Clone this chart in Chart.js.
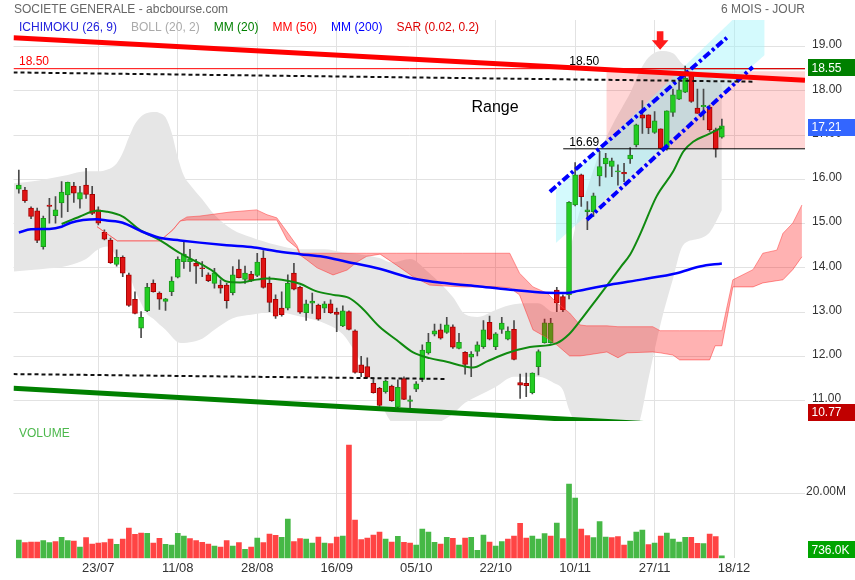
<!DOCTYPE html>
<html>
<head>
<meta charset="utf-8">
<script src="https://cdn.jsdelivr.net/npm/chart.js@4.4.1/dist/chart.umd.min.js"></script>
<style>
  html, body { margin: 0; padding: 0; background: #fff; }
  #wrap { width: 855px; height: 580px; }
  canvas { display: block; }
</style>
</head>
<body>
<div id="wrap">
  <canvas id="priceChart" width="855" height="421"></canvas>
  <canvas id="volChart" width="855" height="159"></canvas>
</div>
<script>
// Axe des dates : un indice par séance (0 = première bougie)
const dateTicks  = [13, 26, 39, 52, 65, 78, 91, 104, 117];
const dateLabels = ['23/07', '11/08', '28/08', '16/09', '05/10', '22/10', '10/11', '27/11', '18/12'];
const priceTicks = [11, 12, 13, 14, 15, 16, 17, 18, 19];
const volTicks   = [20];

// Bougies
const opens = [15.78,15.76,15.35,15.29,14.48,15.42,15.18,15.47,15.65,15.85,15.55,15.87,15.66,15.31,14.80,14.63,14.08,14.24,13.84,13.29,
  12.64,13.03,13.65,13.43,13.24,13.46,13.79,14.14,14.14,14.10,14.00,13.84,13.65,13.61,13.61,13.44,13.97,13.74,13.86,13.83,
  14.22,13.65,13.29,13.09,13.09,13.88,13.56,12.99,13.20,13.16,13.09,13.19,13.00,12.69,13.01,12.58,11.81,11.77,11.39,11.28,
  11.20,11.33,10.85,11.50,10.98,11.26,11.48,12.08,12.50,12.60,12.54,12.67,12.18,12.09,11.98,12.11,12.22,12.77,12.22,12.61,
  12.39,12.61,11.41,11.39,11.18,11.77,12.31,12.31,13.50,13.35,13.39,15.42,16.10,15.27,15.27,16.08,16.35,16.29,16.17,16.16,
  16.46,16.78,17.46,17.46,17.06,17.14,16.70,17.51,17.81,17.97,18.36,17.61,17.64,17.63,17.12,16.95];
const highs = [16.21,15.82,15.38,15.35,15.17,15.57,15.61,15.95,15.94,15.93,15.84,16.25,15.84,15.38,14.86,14.67,14.41,14.27,13.88,13.46,
  13.01,13.65,13.73,13.46,13.31,13.80,14.25,14.59,14.42,14.19,14.14,13.89,13.99,13.73,13.65,14.03,14.18,14.04,13.92,14.33,
  14.39,13.80,13.39,13.46,13.84,14.10,13.59,13.27,13.43,13.18,13.24,13.28,13.09,13.14,13.03,12.60,12.00,11.97,11.51,11.30,
  11.47,11.35,11.47,11.54,11.11,11.43,12.26,12.52,12.73,12.73,12.88,12.71,12.52,12.11,12.11,12.33,12.81,12.91,12.54,12.88,
  12.67,12.81,11.60,11.62,11.63,12.15,12.84,12.86,13.56,13.39,15.50,16.38,16.12,15.50,15.69,16.63,16.59,16.48,16.33,16.36,
  16.72,17.25,17.78,17.46,17.53,17.14,17.55,18.04,18.19,18.56,18.40,18.04,18.04,17.68,17.16,17.36];
const lows = [15.69,15.48,15.11,14.57,14.42,15.01,15.01,15.14,15.27,15.48,15.35,15.57,15.20,14.97,14.63,14.10,14.04,13.80,13.13,12.96,
  12.42,13.01,13.45,13.06,13.04,13.37,13.77,13.99,13.92,13.65,13.80,13.69,13.54,13.43,13.09,13.39,13.77,13.65,13.69,13.80,
  13.54,13.01,12.86,12.91,13.05,13.50,12.97,12.81,12.97,12.82,12.99,12.97,12.56,12.67,12.60,11.62,11.54,11.51,11.17,10.87,
  11.17,10.98,10.83,11.02,10.83,11.20,11.43,12.05,12.46,12.39,12.52,12.18,12.17,11.60,11.54,12.01,12.18,12.37,12.15,12.52,
  12.37,11.92,11.05,11.09,11.15,11.58,12.30,12.30,13.01,13.01,13.30,15.40,15.39,14.86,15.16,15.85,16.05,16.06,15.87,15.95,
  16.36,16.73,17.04,17.03,17.04,16.68,16.66,17.42,17.80,17.96,17.74,17.49,17.34,17.08,16.50,16.93];
const closes = [15.87,15.52,15.16,14.62,15.12,15.39,15.31,15.71,15.93,15.69,15.70,15.66,15.23,15.01,14.65,14.12,14.24,13.88,13.15,12.97,
  12.88,13.56,13.46,13.29,13.30,13.70,14.19,14.31,14.20,14.04,13.98,13.71,13.89,13.54,13.26,13.84,13.78,13.88,13.73,14.13,
  13.56,13.22,12.91,12.94,13.65,13.52,13.00,13.19,13.25,12.84,13.19,12.99,12.95,13.03,12.61,11.64,11.63,11.53,11.18,10.89,
  11.44,11.00,11.30,11.03,11.02,11.38,12.14,12.32,12.58,12.41,12.71,12.21,12.32,11.82,12.05,12.26,12.60,12.39,12.51,12.75,
  12.57,11.93,11.35,11.34,11.62,12.11,12.76,12.75,13.21,13.05,15.48,16.10,15.61,15.31,15.63,16.29,16.48,16.42,16.19,16.12,
  16.55,17.23,17.38,17.16,17.32,16.70,17.55,17.91,18.02,18.28,17.76,17.49,17.67,17.12,16.68,17.21];
// Volumes en millions de titres
const volumes = [5.70,4.87,5.08,5.08,5.49,4.87,5.18,6.53,5.49,5.39,3.52,6.42,4.46,4.77,4.87,6.01,4.35,6.01,9.43,7.46,
  7.88,7.77,4.77,6.22,4.35,4.15,7.77,6.94,6.11,5.49,4.97,4.46,3.83,3.52,5.49,3.83,4.87,2.80,3.52,6.32,
  4.87,7.56,7.15,6.53,12.23,5.18,6.11,6.01,4.77,6.63,4.77,4.56,6.63,6.94,35.23,11.92,5.80,6.32,7.25,8.19,
  6.01,5.08,6.84,4.97,4.77,4.15,9.12,8.19,4.97,4.46,6.53,6.22,4.15,6.32,6.53,2.49,7.25,5.08,3.83,5.18,
  6.01,6.94,10.88,6.32,6.94,6.01,7.67,6.94,10.98,6.11,23.10,18.76,9.12,7.05,6.42,11.40,6.63,6.42,6.74,4.15,
  5.39,8.19,8.81,4.25,4.77,6.94,7.88,6.01,5.08,6.53,6.53,4.66,4.56,7.56,6.74,0.736];

// Indicateurs (points relevés)
const mm20Idx = [7,10,12.7,14.4,17,19.8,23,26.4,29.6,31.8,34,36.2,38.3,40.5,43,46,48.5,51.4,54,56,59,61.8,64.5,67.2,70,72.7,74.3,76.5,79.8,83.6,88,90,91.8,93.9,96.1,98.5,100,101.6,104.3,107,108.7,110.3,112.5,115];
const mm20Val = [14.99,15.16,15.29,15.27,15.16,14.86,14.63,14.33,14.10,13.92,13.69,13.67,13.72,13.76,13.73,13.64,13.48,13.39,13.32,13.11,12.67,12.37,12.09,11.96,11.88,11.78,11.75,11.88,12.07,12.21,12.30,12.50,12.80,13.18,13.58,14.03,14.30,14.75,15.61,16.17,16.63,16.85,17.00,17.17];
const mm200Idx = [0,2,5,7,8.5,10.5,12.7,14.4,17,19.8,23,26.4,29.6,34,38.5,42.5,46,49.8,53.6,59,64.5,70,75.4,81,86.3,89.6,91.5,96.7,102,107.6,111.4,115];
const mm200Val = [14.80,14.87,14.88,14.93,15.02,15.08,15.10,15.07,15.02,14.84,14.68,14.62,14.57,14.51,14.46,14.37,14.31,14.25,14.14,13.98,13.76,13.65,13.58,13.50,13.44,13.43,13.48,13.62,13.74,13.88,14.03,14.10];
const bollIdx = [-0.8,2,5,8,11,13,14.5,16,17,18,19,20,21,22,23,24,25,26,27,28,30,32,35,38,42,46,50,53,55,57,59,61,64,67,71,73,75,78,81,85,87.5,89,90,91,93,95,97,99,100,101.6,103,105,107,108.6,111,113,115];
const bollUp = [15.91,15.95,16.02,16.10,16.18,16.18,16.22,16.36,16.6,16.95,17.25,17.42,17.5,17.52,17.5,17.4,17.05,16.5,16.08,15.88,15.55,15.2,14.86,14.69,14.52,14.42,14.42,14.35,14.32,14.28,14.22,14.12,14.2,13.9,13.34,12.95,12.89,13.05,13.18,13.2,13.0,13.05,14.2,14.9,15.8,16.6,17.2,17.7,17.95,18.45,18.75,18.9,18.85,18.6,18.4,18.3,18.15];
const bollLo = [13.92,13.95,13.99,14.05,14.2,14.42,14.48,14.25,14.0,13.85,13.5,13.2,12.95,12.85,12.72,12.6,12.45,12.32,12.3,12.32,12.4,12.6,12.86,12.94,13.0,12.9,12.75,12.5,12.1,11.6,11.0,10.5,10.3,10.4,10.7,10.95,11.1,11.31,11.54,11.54,11.4,11.24,10.8,10.5,10.2,10.0,9.9,9.95,10.1,10.56,11.5,12.75,13.75,14.5,14.65,14.8,15.3];
const cloudIdx = [12.8,16.1,23.1,25.2,26.4,27.5,29.6,34.5,38.9,40.6,42.2,43.9,45.5,46,47.1,48.8,51.4,53.7,55.3,56.9,59.1,61.8,64.5,67.2,72.6,78.2,80.3,81.9,84.1,86.4,88,90.1,91.8,92.9,96.2,98,99.5,103.7,104.9,107,108.1,113,113.9,115,116.8,120.1,121.7,124,125,126.6,128.1];
const cloudA = [14.93,14.61,14.61,14.86,15.06,15.15,15.17,15.26,15.31,15.20,15.13,14.81,14.50,14.33,14.33,14.33,14.33,14.33,14.33,14.33,14.33,14.33,14.33,14.33,14.33,14.33,14.33,13.88,13.57,13.43,13.21,12.98,12.71,12.69,12.69,12.67,12.67,12.67,12.58,12.58,12.58,12.58,12.58,12.58,13.73,13.96,14.33,14.40,14.78,15.01,15.42];
const cloudB = [14.93,14.61,14.61,14.86,15.06,15.08,15.08,15.08,15.08,15.08,15.08,14.63,14.45,14.29,14.18,14.00,13.84,13.95,14.13,14.26,14.31,14.06,13.80,13.61,13.57,13.57,13.55,13.39,12.60,12.42,12.26,12.01,12.01,12.03,12.10,11.97,12.08,12.10,12.08,12.03,11.92,11.92,12.24,12.24,13.57,13.57,13.66,13.71,13.73,13.96,14.25];

// Tracés manuels (indice de séance, cours)
const X_MIN = -0.87, X_MAX = 128.6;
const P_MIN = 10.54, P_MAX = 19.60;
const V_MAX = 42.7;
const redTrendX = [X_MIN, X_MAX],   redTrendY = [19.20, 18.24];
const greenTrendX = [X_MIN, X_MAX], greenTrendY = [11.28, 10.28];
const dashTopX = [X_MIN, 120.06],   dashTopY = [18.415, 18.207];
const dashBotX = [X_MIN, 70.0],     dashBotY = [11.60, 11.49];
const chanUpX = [86.87, 115.81],    chanUpY = [15.72, 19.20];
const chanLoX = [92.92, 120.06],    chanLoY = [15.085, 18.54];
const cyanX = [87.85, 122.0],       cyanTopY = [15.76, 20.30], cyanBotY = [14.56, 18.81];
const levelHi = 18.50, levelLo = 16.69, levelStart = 89.05;
const rangeX = [96.1, X_MAX],       rangeTop = 18.44, rangeBot = 16.69;
const arrowX = 104.9, arrowTip = 18.93;
const rangeLabel = {x: 77.9, y: 17.62};
const lastClose = 17.21, bollBadge = 18.55, lowBadge = 10.77, lastVol = '736.0K';

const FONT = "'Liberation Sans', Arial, sans-serif";
const GRID = '#e2e2e2';
Chart.defaults.font.family = FONT;

const legendItems = [
  {t: 'ICHIMOKU (26, 9)', c: '#2222dd'},
  {t: 'BOLL (20, 2)', c: '#aaaaaa'},
  {t: 'MM (20)', c: '#008000'},
  {t: 'MM (50)', c: '#ff0000'},
  {t: 'MM (200)', c: '#0000ff'},
  {t: 'SAR (0.02, 0.2)', c: '#dd0000'}
];

function pts(xs, ys) { return xs.map((x, k) => ({x: x, y: ys[k]})); }
function lineDs(xs, ys, opt) {
  return Object.assign({
    type: 'line', data: pts(xs, ys), pointRadius: 0, borderWidth: 1,
    fill: false, tension: 0, yAxisID: 'y'
  }, opt);
}
const NONE = 'rgba(0,0,0,0)';
const idx = closes.map((c, i) => i);
const bodyUp = idx.map(i => closes[i] >= opens[i]);
const volUp = idx.map(i => i === 0 || closes[i] >= closes[i - 1]);

function xScaleOpts(showLabels) {
  return {
    type: 'linear', min: X_MIN, max: X_MAX, offset: false,
    afterBuildTicks: s => { s.ticks = dateTicks.map(v => ({value: v})); },
    afterFit: s => { s.height = showLabels ? 21.7 : 0; s.paddingLeft = 0; s.paddingRight = 0; },
    ticks: {
      display: showLabels, autoSkip: false, maxRotation: 0, padding: 2,
      color: '#333', font: {size: 13},
      callback: (v, k) => dateLabels[k]
    },
    grid: {color: GRID, drawTicks: false, offset: false},
    border: {display: false}
  };
}

function badge(ctx, text, yc, bg) {
  ctx.fillStyle = bg;
  ctx.fillRect(808, Math.round(yc - 8.5), 47, 17);
  ctx.fillStyle = '#fff';
  ctx.font = '12px ' + FONT;
  ctx.textAlign = 'left';
  ctx.textBaseline = 'middle';
  ctx.fillText(text, 811.5, yc + 0.5);
}

const priceOverlay = {
  id: 'priceOverlay',
  afterDatasetsDraw(chart) {
    const {ctx, scales: {x, y}} = chart;
    const cx = x.getPixelForValue(arrowX), ty = y.getPixelForValue(arrowTip);
    ctx.save();
    ctx.fillStyle = '#ff1a1a';
    ctx.beginPath();
    ctx.moveTo(cx - 3.3, ty - 18.3);
    ctx.lineTo(cx + 3.3, ty - 18.3);
    ctx.lineTo(cx + 3.3, ty - 9.3);
    ctx.lineTo(cx + 8.3, ty - 9.3);
    ctx.lineTo(cx, ty);
    ctx.lineTo(cx - 8.3, ty - 9.3);
    ctx.lineTo(cx - 3.3, ty - 9.3);
    ctx.closePath();
    ctx.fill();
    ctx.restore();
  },
  afterDraw(chart) {
    const {ctx, scales: {x, y}} = chart;
    ctx.save();
    ctx.textBaseline = 'middle';
    ctx.font = '12px ' + FONT;
    ctx.fillStyle = '#666';
    ctx.textAlign = 'left';
    ctx.fillText('SOCIETE GENERALE - abcbourse.com', 14, 9.5);
    ctx.textAlign = 'right';
    ctx.fillText('6 MOIS - JOUR', 805, 9.5);
    ctx.textAlign = 'left';
    let lx = 19;
    legendItems.forEach(it => {
      ctx.fillStyle = it.c;
      ctx.fillText(it.t, lx, 28);
      lx += ctx.measureText(it.t).width + 14;
    });
    ctx.fillStyle = '#ff0000';
    ctx.fillText(levelHi.toFixed(2), 19, y.getPixelForValue(levelHi) - 6.5);
    ctx.fillStyle = '#000';
    const lvx = x.getPixelForValue(levelStart) + 6;
    ctx.fillText(levelHi.toFixed(2), lvx, y.getPixelForValue(levelHi) - 6.5);
    ctx.fillText(levelLo.toFixed(2), lvx, y.getPixelForValue(levelLo) - 6.5);
    ctx.font = '16px ' + FONT;
    ctx.textAlign = 'center';
    ctx.fillText('Range', x.getPixelForValue(rangeLabel.x), y.getPixelForValue(rangeLabel.y));
    badge(ctx, bollBadge.toFixed(2), y.getPixelForValue(bollBadge) + 1.5, '#008000');
    badge(ctx, lastClose.toFixed(2), y.getPixelForValue(lastClose) + 1.5, '#3366ff');
    badge(ctx, lowBadge.toFixed(2), y.getPixelForValue(lowBadge) + 1.2, '#c00000');
    ctx.restore();
  }
};

new Chart(document.getElementById('priceChart'), {
  type: 'bar',
  data: {
    datasets: [
      lineDs(redTrendX, redTrendY, {borderColor: '#ff0000', borderWidth: 5, order: 0}),
      lineDs(greenTrendX, greenTrendY, {borderColor: '#008000', borderWidth: 5, order: 0}),
      lineDs(dashTopX, dashTopY, {borderColor: '#111', borderWidth: 2, borderDash: [4, 3], order: 0}),
      lineDs(dashBotX, dashBotY, {borderColor: '#111', borderWidth: 2, borderDash: [4, 3], order: 0}),
      lineDs(chanUpX, chanUpY, {borderColor: '#0000ff', borderWidth: 4, borderDash: [8, 3, 3, 3], order: 0}),
      lineDs(chanLoX, chanLoY, {borderColor: '#0000ff', borderWidth: 4, borderDash: [8, 3, 3, 3], order: 0}),
      lineDs([X_MIN, X_MAX], [levelHi, levelHi], {borderColor: '#ff0000', borderWidth: 1, order: 0}),
      lineDs([levelStart, X_MAX], [levelHi, levelHi], {borderColor: '#000', borderWidth: 1, order: 0}),
      lineDs([levelStart, X_MAX], [levelLo, levelLo], {borderColor: '#000', borderWidth: 1, order: 0}),
      lineDs(mm200Idx, mm200Val, {borderColor: '#0000ff', borderWidth: 2.5, cubicInterpolationMode: 'monotone', order: 1}),
      lineDs(mm20Idx, mm20Val, {borderColor: '#108a10', borderWidth: 2, cubicInterpolationMode: 'monotone', order: 1}),
      lineDs(cloudIdx, cloudA, {borderColor: 'rgba(255,70,70,0.55)', fill: '+1', backgroundColor: 'rgba(255,0,0,0.3)', order: 2}),
      lineDs(cloudIdx, cloudB, {borderColor: 'rgba(255,70,70,0.55)', order: 2}),
      {
        type: 'bar', yAxisID: 'y', order: 3, grouped: false, barThickness: 5, minBarLength: 1,
        data: idx.map(i => ({x: i, y: [opens[i], closes[i]]})),
        backgroundColor: idx.map(i => bodyUp[i] ? '#22cc22' : '#e01414'),
        borderColor: idx.map(i => bodyUp[i] ? '#1c9a1c' : '#a80000'),
        borderWidth: 1, borderSkipped: false
      },
      {
        type: 'bar', yAxisID: 'y', order: 4, grouped: false, barThickness: 1,
        data: idx.map(i => ({x: i, y: [lows[i], highs[i]]})),
        backgroundColor: '#4a4a4a'
      },
      lineDs(cyanX, cyanTopY, {borderColor: NONE, fill: '+1', backgroundColor: 'rgba(160,245,250,0.45)', order: 5}),
      lineDs(cyanX, cyanBotY, {borderColor: NONE, order: 5}),
      lineDs(rangeX, [rangeTop, rangeTop], {borderColor: NONE, fill: '+1', backgroundColor: 'rgba(255,0,0,0.16)', order: 6}),
      lineDs(rangeX, [rangeBot, rangeBot], {borderColor: NONE, order: 6}),
      lineDs(bollIdx, bollUp, {borderColor: NONE, fill: '+1', backgroundColor: '#e6e6e6', cubicInterpolationMode: 'monotone', order: 7}),
      lineDs(bollIdx, bollLo, {borderColor: NONE, cubicInterpolationMode: 'monotone', order: 7})
    ]
  },
  options: {
    responsive: false, animation: false,
    layout: {padding: {left: 13.5, top: 20, right: 0, bottom: 0}, autoPadding: false},
    plugins: {legend: {display: false}, tooltip: {enabled: false}},
    scales: {
      x: xScaleOpts(false),
      y: {
        position: 'right', min: P_MIN, max: P_MAX,
        afterBuildTicks: s => { s.ticks = priceTicks.map(v => ({value: v})); },
        afterFit: s => { s.width = 50; s.paddingTop = 0; s.paddingBottom = 0; },
        ticks: {color: '#333', font: {size: 12}, padding: 7, labelOffset: -1.5, callback: v => v.toFixed(2)},
        grid: {color: GRID, drawTicks: false},
        border: {display: false}
      }
    }
  },
  plugins: [priceOverlay]
});

const volOverlay = {
  id: 'volOverlay',
  afterDraw(chart) {
    const {ctx, scales: {y}} = chart;
    ctx.save();
    ctx.font = '12px ' + FONT;
    ctx.textBaseline = 'middle';
    ctx.textAlign = 'left';
    ctx.fillStyle = '#4cb84c';
    ctx.fillText('VOLUME', 19, 13);
    const yc = Math.min(y.getPixelForValue(volumes[volumes.length - 1]), y.bottom - 8.5);
    badge(ctx, lastVol, yc, '#00a400');
    ctx.restore();
  }
};

new Chart(document.getElementById('volChart'), {
  type: 'bar',
  data: {
    datasets: [{
      yAxisID: 'y', grouped: false, barThickness: 5,
      data: idx.map(i => ({x: i, y: volumes[i]})),
      backgroundColor: idx.map(i => volUp[i] ? '#46b846' : '#ff4444')
    }]
  },
  options: {
    responsive: false, animation: false,
    layout: {padding: {left: 13.5, top: 0, right: 0, bottom: 0}, autoPadding: false},
    plugins: {legend: {display: false}, tooltip: {enabled: false}},
    scales: {
      x: xScaleOpts(true),
      y: {
        position: 'right', min: 0, max: V_MAX,
        afterBuildTicks: s => { s.ticks = volTicks.map(v => ({value: v})); },
        afterFit: s => { s.width = 50; s.paddingTop = 0; s.paddingBottom = 0; },
        ticks: {color: '#333', font: {size: 12}, padding: 1, labelOffset: -2, callback: v => v.toFixed(2) + 'M'},
        grid: {color: GRID, drawTicks: false},
        border: {display: false}
      }
    }
  },
  plugins: [volOverlay]
});
</script>
</body>
</html>
